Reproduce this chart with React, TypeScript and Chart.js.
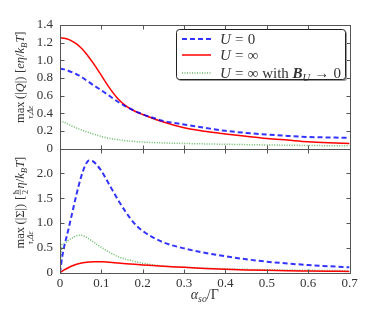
import React, { useEffect, useRef } from "react";
import { Chart, registerables } from "chart.js";

Chart.register(...registerables);

// ---- data ----
const alphaSO = [0, 0.005, 0.01, 0.02, 0.03, 0.04, 0.05, 0.06, 0.07, 0.08, 0.09, 0.1, 0.12, 0.14, 0.16, 0.18, 0.2, 0.25, 0.3, 0.35, 0.4, 0.45, 0.5, 0.55, 0.6, 0.65, 0.7];

const chargeU0 = [0.905, 0.902, 0.897, 0.882, 0.863, 0.842, 0.818, 0.785, 0.752, 0.72, 0.69, 0.66, 0.595, 0.53, 0.475, 0.428, 0.388, 0.313, 0.272, 0.235, 0.2, 0.177, 0.158, 0.143, 0.131, 0.125, 0.12];
const chargeUInf = [1.255, 1.254, 1.25, 1.237, 1.215, 1.185, 1.145, 1.095, 1.035, 0.97, 0.9, 0.828, 0.685, 0.565, 0.48, 0.425, 0.385, 0.3, 0.235, 0.195, 0.165, 0.138, 0.113, 0.095, 0.077, 0.065, 0.056];
const chargeUInfB0 = [0.31, 0.305, 0.298, 0.275, 0.252, 0.232, 0.214, 0.196, 0.18, 0.165, 0.15, 0.136, 0.114, 0.1, 0.088, 0.08, 0.073, 0.063, 0.057, 0.052, 0.048, 0.044, 0.04, 0.037, 0.034, 0.032, 0.03];

const spinU0 = [0, 0.3, 0.52, 0.86, 1.22, 1.58, 1.9, 2.14, 2.26, 2.24, 2.16, 2.05, 1.76, 1.47, 1.21, 0.99, 0.84, 0.61, 0.49, 0.4, 0.33, 0.27, 0.222, 0.185, 0.155, 0.13, 0.109];
const spinUInf = [0, 0.028, 0.055, 0.1, 0.14, 0.17, 0.19, 0.205, 0.214, 0.219, 0.222, 0.222, 0.21, 0.195, 0.181, 0.168, 0.157, 0.13, 0.108, 0.085, 0.068, 0.056, 0.047, 0.04, 0.035, 0.03, 0.025];
const spinUInfB0 = [0, 0.56, 0.59, 0.65, 0.7, 0.745, 0.752, 0.73, 0.68, 0.625, 0.565, 0.51, 0.41, 0.325, 0.27, 0.228, 0.19, 0.135, 0.11, 0.092, 0.077, 0.068, 0.06, 0.054, 0.049, 0.044, 0.04];

const xTicks = [0, 0.1, 0.2, 0.3, 0.4, 0.5, 0.6, 0.7];
const chargeTicks = [0, 0.2, 0.4, 0.6, 0.8, 1.0, 1.2, 1.4];
const spinTicks = [0, 0.5, 1.0, 1.5, 2.0];

const seriesNames = ["U=0", "U=inf", "U=inf,B->0"];

// ---- styles ----
const FONT = '"Liberation Serif", "DejaVu Serif", serif';
const TEXT = "#333";
const FRAME = "#555";
const W = 374;
const H = 310;
const styles = [
  { color: "rgba(0,0,255,0.8)", width: 2, dash: [5, 3] },
  { color: "#ff0000", width: 1.5, dash: [] as number[] },
  { color: "rgba(0,140,0,0.6)", width: 1.5, dash: [1, 1.5] },
];

type Seg = { t?: string; it?: boolean; bold?: boolean; sz?: number; dy?: number; sp?: number; under?: string; frac?: [string, string] };

function fnt(base: number, s: { it?: boolean; bold?: boolean; sz?: number }) {
  return `${s.it ? "italic " : ""}${s.bold ? "bold " : ""}${(base * (s.sz ?? 1)).toFixed(2)}px ${FONT}`;
}

function segWidth(ctx: CanvasRenderingContext2D, s: Seg, base: number) {
  if (s.sp !== undefined) return s.sp * base;
  if (s.frac) {
    ctx.font = fnt(base, { sz: 0.7 });
    return Math.max(ctx.measureText(s.frac[0]).width, ctx.measureText(s.frac[1]).width) + 0.25 * base;
  }
  ctx.font = fnt(base, s);
  let w = ctx.measureText(s.t || "").width;
  if (s.under) {
    ctx.font = fnt(base, { it: true, sz: 0.65 });
    w = Math.max(w, ctx.measureText(s.under).width);
  }
  return w;
}

function drawRich(ctx: CanvasRenderingContext2D, segs: Seg[], x: number, y: number, base: number, align: "left" | "center") {
  const widths = segs.map((s) => segWidth(ctx, s, base));
  const total = widths.reduce((a, b) => a + b, 0);
  let cx = align === "center" ? x - total / 2 : x;
  ctx.textAlign = "left";
  ctx.textBaseline = "alphabetic";
  segs.forEach((s, i) => {
    const w = widths[i];
    if (s.sp !== undefined) {
      cx += w;
      return;
    }
    if (s.frac) {
      ctx.font = fnt(base, { sz: 0.7 });
      const mid = cx + w / 2;
      ctx.textAlign = "center";
      ctx.fillText(s.frac[0], mid, y - 0.42 * base);
      ctx.fillText(s.frac[1], mid, y + 0.32 * base);
      ctx.textAlign = "left";
      ctx.save();
      ctx.strokeStyle = ctx.fillStyle as string;
      ctx.lineWidth = 0.6;
      ctx.beginPath();
      ctx.moveTo(cx + 0.08 * base, y - 0.3 * base);
      ctx.lineTo(cx + w - 0.08 * base, y - 0.3 * base);
      ctx.stroke();
      ctx.restore();
      cx += w;
      return;
    }
    ctx.font = fnt(base, s);
    const tw = ctx.measureText(s.t || "").width;
    ctx.fillText(s.t || "", cx + (w - tw) / 2, y + (s.dy ?? 0) * base);
    if (s.under) {
      ctx.font = fnt(base, { it: true, sz: 0.65 });
      ctx.textAlign = "center";
      ctx.fillText(s.under, cx + w / 2, y + 0.72 * base);
      ctx.textAlign = "left";
    }
    cx += w;
  });
}

const chargeTitle: Seg[] = [
  { t: "max", under: "τ,Δε" },
  { sp: 0.2 },
  { t: "(|" },
  { t: "Q", it: true },
  { t: "|)" },
  { sp: 0.3 },
  { t: "[" },
  { t: "eη", it: true },
  { t: "/" },
  { t: "k", it: true },
  { t: "B", it: true, sz: 0.7, dy: 0.22 },
  { t: "T", it: true },
  { t: "]" },
];

const spinTitle: Seg[] = [
  { t: "max", under: "τ,Δε" },
  { sp: 0.2 },
  { t: "(|" },
  { t: "Σ" },
  { t: "|)" },
  { sp: 0.3 },
  { t: "[" },
  { frac: ["ħ", "2"] },
  { t: "η", it: true },
  { t: "/" },
  { t: "k", it: true },
  { t: "B", it: true, sz: 0.7, dy: 0.22 },
  { t: "T", it: true },
  { t: "]" },
];

const xTitle: Seg[] = [
  { t: "α", it: true },
  { t: "so", it: true, sz: 0.7, dy: 0.22 },
  { t: "/Γ" },
];

const legendTexts: Seg[][] = [
  [{ t: "U", it: true }, { sp: 0.28 }, { t: "=" }, { sp: 0.28 }, { t: "0" }],
  [{ t: "U", it: true }, { sp: 0.28 }, { t: "=" }, { sp: 0.28 }, { t: "∞" }],
  [
    { t: "U", it: true }, { sp: 0.28 }, { t: "=" }, { sp: 0.28 }, { t: "∞" },
    { t: " with " },
    { t: "B", it: true, bold: true },
    { t: "U", it: true, sz: 0.7, dy: 0.22 },
    { sp: 0.28 }, { t: "→" }, { sp: 0.28 }, { t: "0" },
  ],
];

const px = (v: number) => Math.round(v) + 0.5;

function framePlugin(yTicks: number[], title: Seg[], titleShift: number, withX: boolean) {
  return {
    id: "frameTicks",
    afterDatasetsDraw(chart: any) {
      const ctx: CanvasRenderingContext2D = chart.ctx;
      const { left, right, top, bottom } = chart.chartArea;
      const xs = chart.scales.x;
      const ys = chart.scales.y;
      ctx.save();
      ctx.strokeStyle = FRAME;
      ctx.lineWidth = 1;
      ctx.strokeRect(px(left), px(top), px(right) - px(left), px(bottom) - px(top));
      const L = 4;
      ctx.beginPath();
      xTicks.forEach((v) => {
        const x = px(xs.getPixelForValue(v));
        ctx.moveTo(x, px(bottom));
        ctx.lineTo(x, px(bottom) - L);
        ctx.moveTo(x, px(top));
        ctx.lineTo(x, px(top) + L);
      });
      yTicks.forEach((v) => {
        const y = px(ys.getPixelForValue(v));
        ctx.moveTo(px(left), y);
        ctx.lineTo(px(left) + L, y);
        ctx.moveTo(px(right), y);
        ctx.lineTo(px(right) - L, y);
      });
      ctx.stroke();

      // y title (rotated)
      ctx.fillStyle = TEXT;
      ctx.translate(24, (top + bottom) / 2 + titleShift);
      ctx.rotate(-Math.PI / 2);
      drawRich(ctx, title, 0, 0, 12.5, "center");
      ctx.restore();

      if (withX) {
        ctx.save();
        ctx.fillStyle = TEXT;
        drawRich(ctx, xTitle, (left + right) / 2, 299, 14, "center");
        ctx.restore();
      }
    },
  };
}

const legendPlugin = {
  id: "legendBox",
  afterDraw(chart: any) {
    const ctx: CanvasRenderingContext2D = chart.ctx;
    const bx = 176.5, by = 29.5, bw = 169, bh = 50, r = 3;
    ctx.save();
    const rr = (x: number, y: number) => {
      ctx.beginPath();
      ctx.moveTo(x + r, y);
      ctx.lineTo(x + bw - r, y);
      ctx.arcTo(x + bw, y, x + bw, y + r, r);
      ctx.lineTo(x + bw, y + bh - r);
      ctx.arcTo(x + bw, y + bh, x + bw - r, y + bh, r);
      ctx.lineTo(x + r, y + bh);
      ctx.arcTo(x, y + bh, x, y + bh - r, r);
      ctx.lineTo(x, y + r);
      ctx.arcTo(x, y, x + r, y, r);
      ctx.closePath();
    };
    rr(bx + 1.5, by + 1.5);
    ctx.fillStyle = "#9a9a9a";
    ctx.fill();
    rr(bx, by);
    ctx.fillStyle = "#fff";
    ctx.fill();
    ctx.strokeStyle = "#222";
    ctx.lineWidth = 1;
    ctx.stroke();
    const rows = [39, 55, 73];
    rows.forEach((y, i) => {
      const st = styles[i];
      ctx.strokeStyle = st.color;
      ctx.lineWidth = st.width;
      ctx.setLineDash(st.dash);
      ctx.beginPath();
      ctx.moveTo(182, y);
      ctx.lineTo(211, y);
      ctx.stroke();
      ctx.setLineDash([]);
      ctx.fillStyle = TEXT;
      drawRich(ctx, legendTexts[i], 220, y + 5, 15, "left");
    });
    ctx.restore();
  },
};

function makeDatasets(values: number[][]) {
  return values.map((arr, i) => ({
    label: seriesNames[i],
    data: alphaSO.map((x, j) => ({ x, y: arr[j] })),
    borderColor: styles[i].color,
    borderWidth: styles[i].width,
    borderDash: styles[i].dash,
    pointRadius: 0,
    fill: false,
    cubicInterpolationMode: "monotone" as const,
  }));
}

const fmt = (v: number) => (Math.abs(v) < 1e-9 ? "0" : (Math.round(v * 10) / 10).toFixed(1));

function yScale(max: number, ticks: number[]) {
  return {
    type: "linear" as const,
    min: 0,
    max,
    grid: { display: false, drawTicks: false },
    border: { display: false },
    afterBuildTicks: (s: any) => {
      s.ticks = ticks.map((v) => ({ value: v }));
    },
    afterFit: (s: any) => {
      s.width = 60;
    },
    ticks: {
      padding: 7,
      color: TEXT,
      autoSkip: false,
      font: { family: FONT, size: 13 },
      callback: (v: any) => fmt(Number(v)),
    },
  };
}

export default function App() {
  const topRef = useRef<HTMLCanvasElement>(null);
  const botRef = useRef<HTMLCanvasElement>(null);

  useEffect(() => {
    const top = new Chart(topRef.current as HTMLCanvasElement, {
      type: "line",
      data: { datasets: makeDatasets([chargeU0, chargeUInf, chargeUInfB0]) as any },
      plugins: [framePlugin(chargeTicks, chargeTitle, -9.5, false), legendPlugin],
      options: {
        responsive: false,
        animation: false,
        devicePixelRatio: 1,
        layout: { padding: { left: 0, right: 24.5, top: 25, bottom: H - 148.5 } },
        plugins: { legend: { display: false }, tooltip: { enabled: false } },
        scales: {
          x: {
            type: "linear",
            min: 0,
            max: 0.7,
            display: false,
            afterBuildTicks: (s: any) => {
              s.ticks = xTicks.map((v) => ({ value: v }));
            },
          },
          y: yScale(1.4, chargeTicks) as any,
        },
      },
    });

    const bot = new Chart(botRef.current as HTMLCanvasElement, {
      type: "line",
      data: { datasets: makeDatasets([spinU0, spinUInf, spinUInfB0]) as any },
      plugins: [framePlugin(spinTicks, spinTitle, -8, true)],
      options: {
        responsive: false,
        animation: false,
        devicePixelRatio: 1,
        layout: { padding: { left: 0, right: 24.5, top: 148.5, bottom: 0 } },
        plugins: { legend: { display: false }, tooltip: { enabled: false } },
        scales: {
          x: {
            type: "linear",
            min: 0,
            max: 0.7,
            grid: { display: false, drawTicks: false },
            border: { display: false },
            afterBuildTicks: (s: any) => {
              s.ticks = xTicks.map((v) => ({ value: v }));
            },
            afterFit: (s: any) => {
              s.height = H - 272.7;
            },
            ticks: {
              padding: 3.5,
              color: TEXT,
              maxRotation: 0,
              autoSkip: false,
              font: { family: FONT, size: 13 },
              callback: (v: any) => fmt(Number(v)),
            },
          },
          y: yScale(2.5, spinTicks) as any,
        },
      },
    });

    return () => {
      top.destroy();
      bot.destroy();
    };
  }, []);

  return (
    <div style={{ position: "fixed", left: 0, top: 0, width: W, height: H, background: "#fff" }}>
      <canvas ref={topRef} width={W} height={H} style={{ position: "absolute", left: 0, top: 0, width: W, height: H }} />
      <canvas ref={botRef} width={W} height={H} style={{ position: "absolute", left: 0, top: 0, width: W, height: H }} />
    </div>
  );
}
